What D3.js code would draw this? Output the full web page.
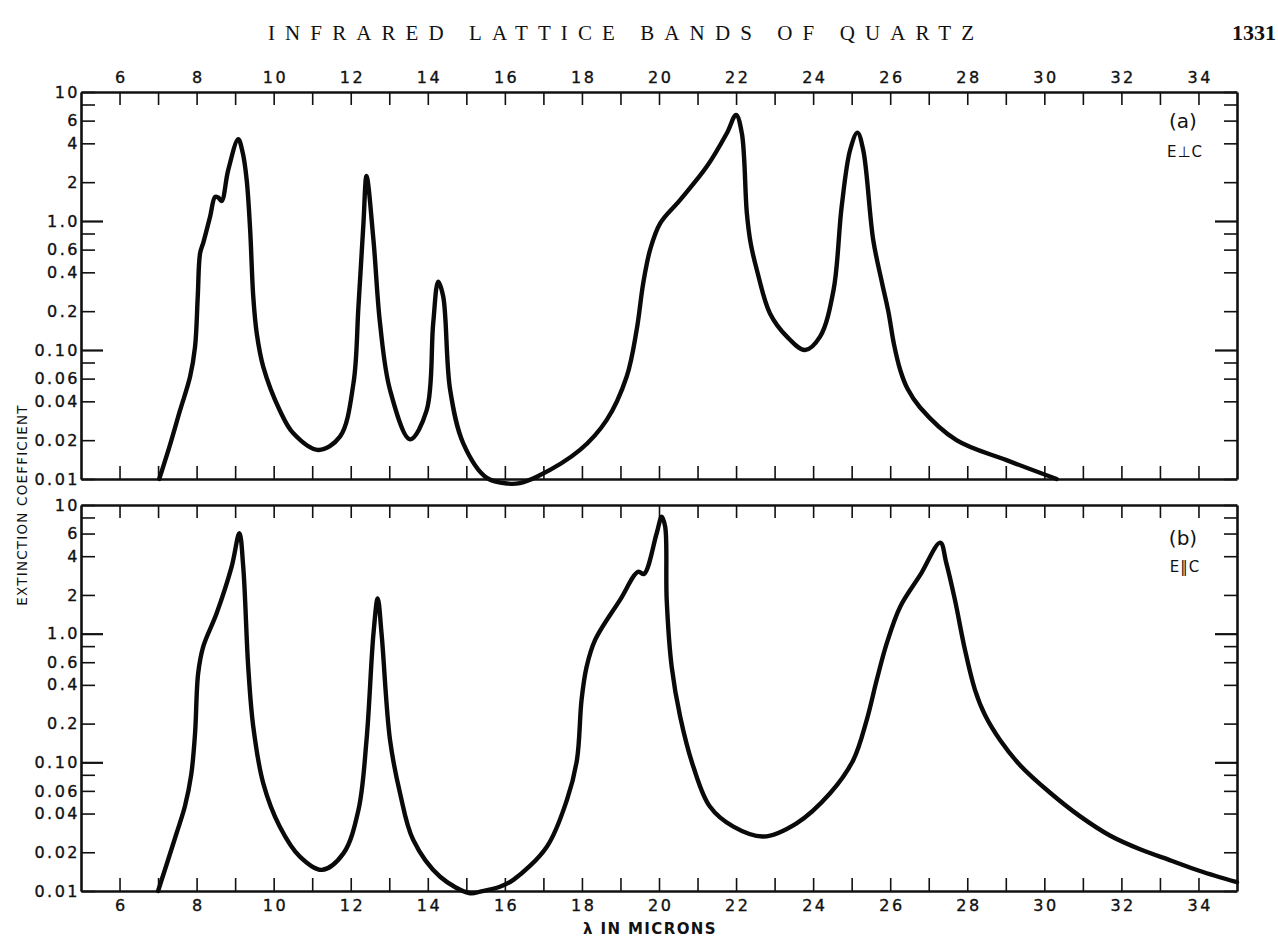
<!DOCTYPE html>
<html>
<head>
<meta charset="utf-8">
<script src="https://cdn.jsdelivr.net/npm/d3@7"></script>
<style>
  html, body { margin: 0; padding: 0; background: #fff; }
  svg { display: block; }
</style>
</head>
<body>
<svg id="chart" width="1278" height="941"></svg>
<script>
// Extinction coefficient of quartz vs wavelength (microns)
// (a) E perpendicular to c-axis
const lambdaPerp = [7.03, 7.3, 7.57, 7.83, 7.96, 8.03, 8.09, 8.18, 8.35, 8.48, 8.56, 8.65, 8.82, 9.08,
  9.2, 9.3, 9.39, 9.47, 9.56, 9.73, 10.16, 10.51, 11.16, 11.72, 12.07, 12.2, 12.33, 12.41, 12.59,
  12.76, 13.02, 13.54, 13.97, 14.14, 14.27, 14.4, 14.58, 14.92, 15.53, 16.1, 16.39, 16.83, 17.95,
  18.64, 19.16, 19.42, 19.59, 19.77, 20.03, 20.55, 21.24, 21.76, 22.0, 22.15, 22.28, 22.38, 22.54, 22.88,
  23.32, 23.79, 24.18, 24.53, 24.74, 24.96, 25.15, 25.3, 25.56, 25.78, 25.95, 26.1, 26.26, 26.45, 26.77,
  27.72, 29.02, 30.32];
const kPerp = [0.01, 0.018, 0.034, 0.062, 0.106, 0.26, 0.56, 0.69, 1.08, 1.54, 1.52, 1.43, 2.48, 4.3,
  3.35, 2.08, 0.85, 0.26, 0.135, 0.074, 0.034, 0.0226, 0.0168, 0.0213, 0.055, 0.217, 0.96, 2.23, 0.71,
  0.161, 0.049, 0.0203, 0.034, 0.161, 0.339, 0.26, 0.049, 0.0189, 0.0102, 0.0092, 0.0093, 0.0104, 0.0168,
  0.0286, 0.062, 0.143, 0.329, 0.6, 0.96, 1.46, 2.64, 4.79, 6.64, 4.79, 1.15, 0.67, 0.417, 0.192,
  0.127, 0.1, 0.127, 0.292, 1.29, 3.55, 4.84, 3.55, 0.71, 0.34, 0.2, 0.11, 0.07, 0.05, 0.036,
  0.020, 0.014, 0.01];

// (b) E parallel to c-axis
const lambdaPar = [7.0, 7.48, 7.7, 7.86, 7.96, 8.04, 8.17, 8.52, 8.91, 9.11, 9.21, 9.34, 9.47, 9.73, 10.16,
  10.68, 11.25, 11.81, 12.2, 12.41, 12.59, 12.7, 12.8, 13.02, 13.28, 13.62, 14.32, 15.1, 15.36, 15.87,
  16.22, 17.09, 17.61, 17.87, 17.99, 18.12, 18.34, 18.99, 19.46, 19.61, 19.94, 20.07, 20.16, 20.2,
  20.33, 20.55, 20.89, 21.32, 21.93, 22.71, 23.57, 24.44, 25.04, 25.39, 25.65, 25.91, 26.26, 26.78,
  27.3, 27.45, 27.68, 27.94, 28.2, 28.46, 28.85, 29.37, 30.15, 30.93, 31.7, 32.5, 33.3, 34.04, 35.0];
const kPar = [0.01, 0.0281, 0.046, 0.08, 0.168, 0.49, 0.79, 1.44, 3.32, 6.03, 3.32, 0.55, 0.19, 0.0687, 0.0316,
  0.0185, 0.0146, 0.0196, 0.0426, 0.149, 1.0, 1.88, 1.0, 0.149, 0.0575, 0.025, 0.0129, 0.0096, 0.0099, 0.0108,
  0.0122, 0.0221, 0.051, 0.104, 0.305, 0.55, 0.89, 1.83, 3.03, 2.91, 6.03, 8.11, 6.78, 1.83,
  0.55, 0.226, 0.0927, 0.0453, 0.0316, 0.0265, 0.0336, 0.0575, 0.104, 0.213, 0.436, 0.84, 1.62, 2.86,
  5.1, 3.6, 1.83, 0.75, 0.366, 0.233, 0.149, 0.095, 0.058, 0.038, 0.027, 0.021, 0.0172, 0.0143, 0.0117];

// Axis ticks
const xTickValues = d3.range(6, 35, 1);
const xLabelValues = [6, 8, 10, 12, 14, 16, 18, 20, 22, 24, 26, 28, 30, 32, 34];
const yTickValues = [10, 8, 6, 4, 2, 1, 0.8, 0.6, 0.4, 0.2, 0.1, 0.08, 0.06, 0.04, 0.02, 0.01];
const yMajorValues = [1, 0.1];
const yLabelValues = [10, 6, 4, 2, 1, 0.6, 0.4, 0.2, 0.1, 0.06, 0.04, 0.02, 0.01];
const yLabelTexts = ["10", "6", "4", "2", "1.0", "0.6", "0.4", "0.2", "0.10", "0.06", "0.04", "0.02", "0.01"];

const FONT = "DejaVu Sans, sans-serif";
const INK = "#111";

const svg = d3.select("#chart");
svg.append("rect").attr("width", 1278).attr("height", 941).attr("fill", "#fff");

const left = 81, right = 1237;
const x = d3.scaleLinear().domain([5, 35]).range([left, right]);

const panels = [
  { top: 92, bottom: 479, lam: lambdaPerp, k: kPerp, tag: "(a)", pol: "E\u22A5C", topLabels: true, bottomLabels: false, tagY: 122, polY: 152 },
  { top: 505, bottom: 891, lam: lambdaPar, k: kPar, tag: "(b)", pol: "E\u2016C", topLabels: false, bottomLabels: true, tagY: 539, polY: 567 }
];

const labelFor = v => { const i = yLabelValues.indexOf(v); return i >= 0 ? yLabelTexts[i] : ""; };

function styleAxis(g) {
  g.attr("font-size", null).attr("font-family", null);
  g.select(".domain").attr("stroke", INK).attr("stroke-width", 2.6);
  g.selectAll(".tick line").attr("stroke", INK).attr("stroke-width", 1.6);
  g.selectAll(".tick text")
    .style("font-family", FONT).style("font-size", "16px")
    .style("letter-spacing", "2.5px").style("font-weight", "500")
    .attr("fill", INK).attr("stroke", INK).attr("stroke-width", 0.35);
}

panels.forEach(p => {
  const y = d3.scaleLog().domain([0.01, 10]).range([p.bottom, p.top]);

  // top and bottom axes with inward ticks
  const gTop = svg.append("g").attr("transform", `translate(0,${p.top})`)
    .call(d3.axisTop(x).tickValues(xTickValues).tickSize(-13).tickSizeOuter(0).tickPadding(9)
      .tickFormat(d => p.topLabels && xLabelValues.includes(d) ? d : ""));
  styleAxis(gTop);
  gTop.selectAll(".tick text").attr("dx", 1.2);
  const gBot = svg.append("g").attr("transform", `translate(0,${p.bottom})`)
    .call(d3.axisBottom(x).tickValues(xTickValues).tickSize(-13).tickSizeOuter(0).tickPadding(9)
      .tickFormat(d => p.bottomLabels && xLabelValues.includes(d) ? d : ""));
  styleAxis(gBot);
  gBot.selectAll(".tick text").attr("dx", 1.2);

  // left and right log axes
  const gLeft = svg.append("g").attr("transform", `translate(${left},0)`)
    .call(d3.axisLeft(y).tickValues(yTickValues).tickSize(-14).tickSizeOuter(0).tickPadding(1)
      .tickFormat(labelFor));
  styleAxis(gLeft);
  gLeft.selectAll(".tick").filter(d => yMajorValues.includes(d)).select("line").attr("x2", 22).attr("stroke-width", 2.2);
  const gRight = svg.append("g").attr("transform", `translate(${right},0)`)
    .call(d3.axisRight(y).tickValues(yTickValues).tickSize(-13).tickSizeOuter(0).tickFormat(""));
  styleAxis(gRight);
  gRight.selectAll(".tick").filter(d => yMajorValues.includes(d)).select("line").attr("x2", -22).attr("stroke-width", 2.2);

  // spectrum curve
  const pts = p.lam.map((l, i) => [l, p.k[i]]);
  const line = d3.line().x(d => x(d[0])).y(d => y(d[1])).curve(d3.curveCatmullRom.alpha(0.5));
  svg.append("path").datum(pts).attr("d", line)
    .attr("fill", "none").attr("stroke", "#0a0a0a").attr("stroke-width", 4.4)
    .attr("stroke-linejoin", "round").attr("stroke-linecap", "round");

  // panel tags
  svg.append("text").attr("x", 1183).attr("y", p.tagY).attr("text-anchor", "middle").attr("dominant-baseline", "middle")
    .attr("font-family", FONT).attr("font-size", 20).attr("fill", INK).text(p.tag);
  svg.append("text").attr("x", 1185).attr("y", p.polY).attr("text-anchor", "middle").attr("dominant-baseline", "middle")
    .attr("font-family", FONT).attr("font-size", 15).attr("letter-spacing", 1).attr("fill", INK).text(p.pol);
});

// page header
svg.append("text").attr("x", 621).attr("y", 40).attr("text-anchor", "middle")
  .attr("font-family", "Liberation Serif, serif").attr("font-size", 21).attr("fill", INK)
  .attr("textLength", 706).attr("lengthAdjust", "spacing")
  .text("INFRARED LATTICE BANDS OF QUARTZ");
svg.append("text").attr("x", 1276).attr("y", 40).attr("text-anchor", "end")
  .attr("font-family", "Liberation Serif, serif").attr("font-size", 22).attr("font-weight", "bold").attr("fill", INK)
  .text("1331");

// axis titles
svg.append("text").attr("transform", "translate(27,505) rotate(-90)").attr("text-anchor", "middle")
  .attr("font-family", FONT).attr("font-size", 13.5).attr("letter-spacing", 1.2).attr("fill", INK)
  .text("EXTINCTION COEFFICIENT");
svg.append("text").attr("x", 650).attr("y", 934).attr("text-anchor", "middle")
  .attr("font-family", FONT).attr("font-size", 15).attr("font-weight", "bold").attr("letter-spacing", 1.4).attr("fill", INK)
  .text("\u03BB IN MICRONS");
</script>
</body>
</html>
